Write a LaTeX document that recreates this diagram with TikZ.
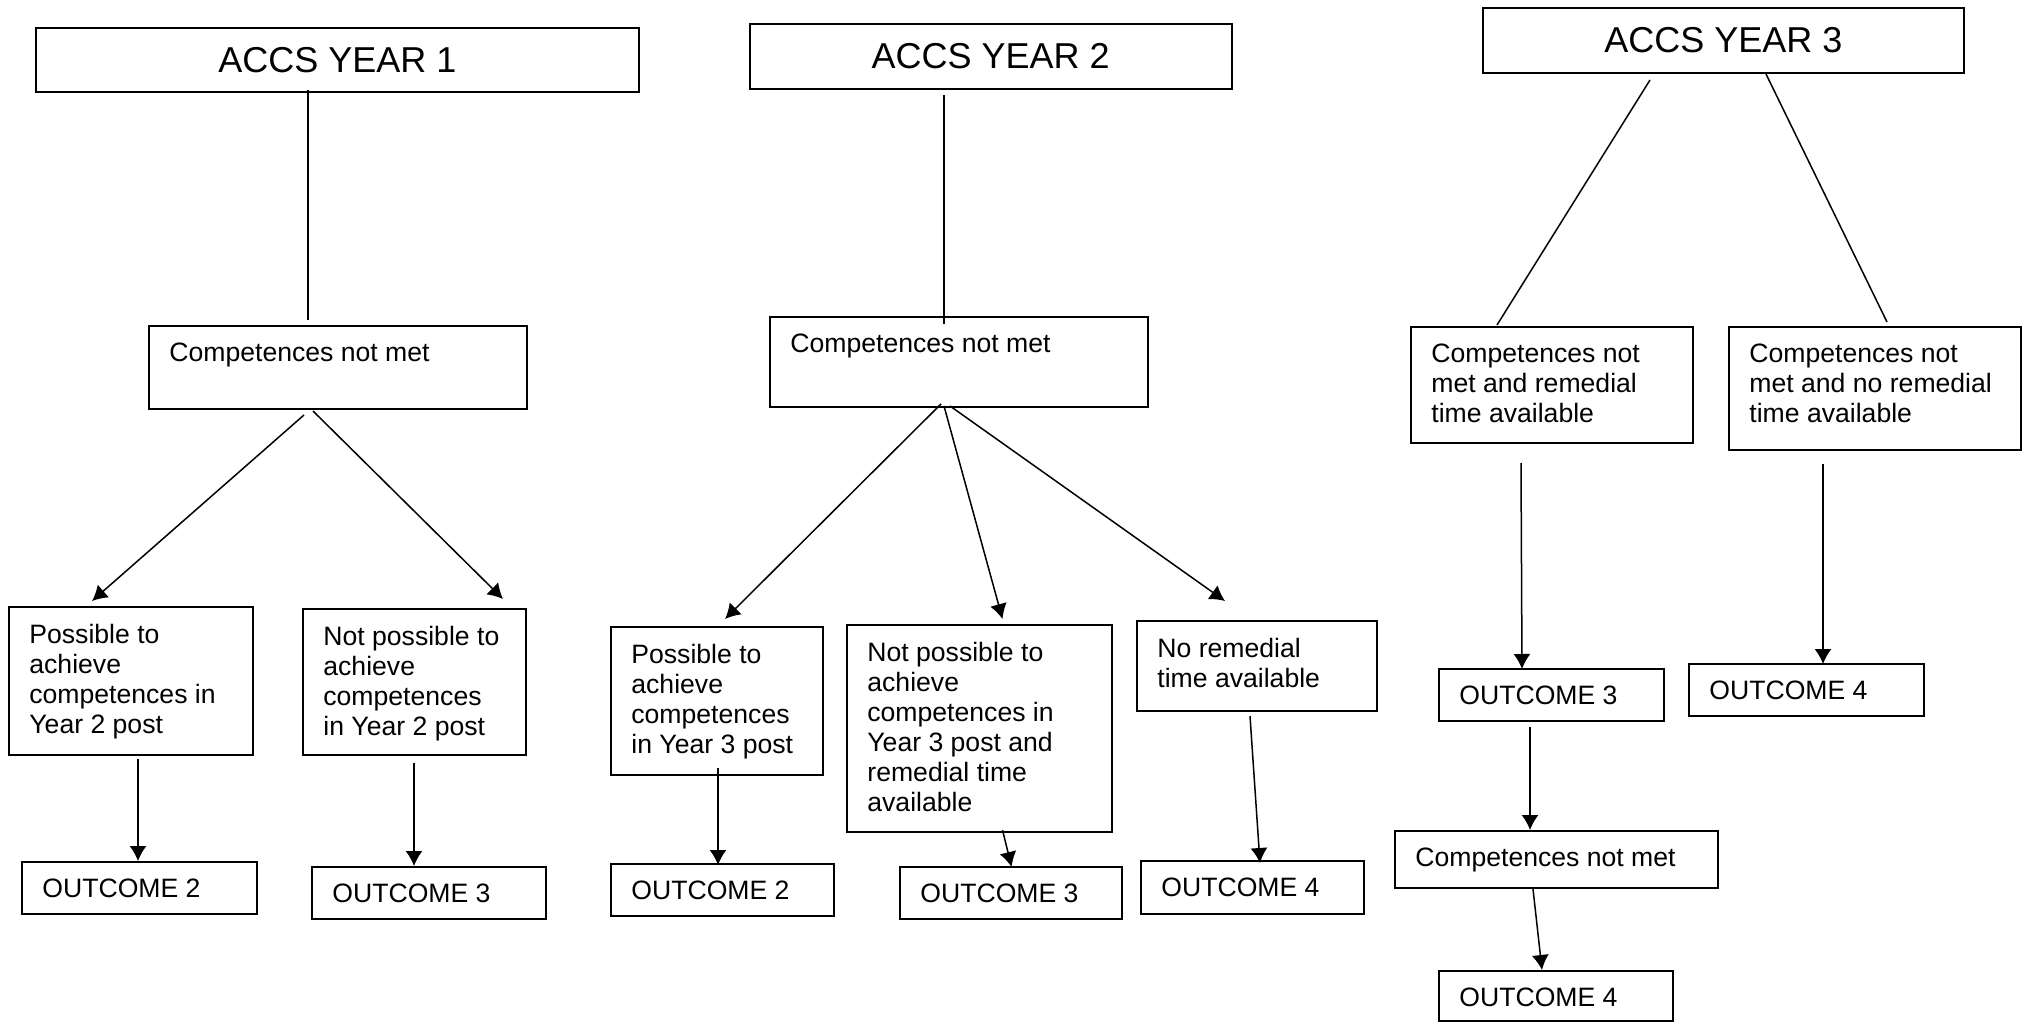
\documentclass[tikz,border=0pt]{standalone}
\usepackage{fontspec}
\setmainfont{Liberation Sans}
\usepackage{tikz}
\usetikzlibrary{arrows.meta}
\tikzset{>={Latex[length=7.5pt,width=8.5pt]},
  box/.style={draw, line width=1pt, inner sep=0pt},
  txt/.style={anchor=north west, inner sep=0pt, align=left,
    xshift=10.5pt, yshift=-9pt, font=\fontsize{13.3}{15}\selectfont},
  yeartitle/.style={box, font=\fontsize{18}{22}\selectfont},
  link/.style={line width=0.75pt}}

\begin{document}
\begin{tikzpicture}[x=0.5pt,y=-0.5pt]

  \useasboundingbox (0,0) rectangle (2026,1022);

  % year 1
  \node [yeartitle, minimum width=301.5pt, minimum height=32pt] (t1) at (337.5,60) {ACCS YEAR 1};
  \node [box, minimum width=189pt, minimum height=41.5pt, label={[txt]north west:Competences not met}] (c1) at (338,367.5) {};
  \node [box, minimum width=122pt, minimum height=74pt, label={[txt]north west:Possible to\\achieve\\competences in\\Year 2 post}] (p1) at (131,681) {};
  \node [box, minimum width=111.5pt, minimum height=73pt, label={[txt]north west:Not possible to\\achieve\\competences\\in Year 2 post}] (n1) at (414.5,682) {};
  \node [box, minimum width=117.5pt, minimum height=26pt, label={[txt]north west:OUTCOME 2}] (o12) at (139.5,888) {};
  \node [box, minimum width=117pt, minimum height=26pt, label={[txt]north west:OUTCOME 3}] (o13) at (429,893) {};

  \draw [link] ([shift={(273,-3)}]t1.south west) -- ([shift={(160,-5)}]c1.north west);
  \draw [link,->] ([shift={(156,5)}]c1.south west) -- ([shift={(84,-5)}]p1.north west);
  \draw [link,->] ([shift={(165,1)}]c1.south west) -- ([shift={(201,-9)}]n1.north west);
  \draw [link,->] ([shift={(130,3)}]p1.south west) -- ([shift={(117,0)}]o12.north west);
  \draw [link,->] ([shift={(112,7)}]n1.south west) -- ([shift={(103,0)}]o13.north west);

  % year 2
  \node [yeartitle, minimum width=240.75pt, minimum height=32.5pt] (t2) at (990.75,56.5) {ACCS YEAR 2};
  \node [box, minimum width=189pt, minimum height=45pt, label={[txt]north west:Competences not met}] (c2) at (959,362) {};
  \node [box, minimum width=106pt, minimum height=74pt, label={[txt]north west:Possible to\\achieve\\competences\\in Year 3 post}] (p2) at (717,701) {};
  \node [box, minimum width=132.5pt, minimum height=103.5pt, label={[txt]north west:Not possible to\\achieve\\competences in\\Year 3 post and\\remedial time\\available}] (n2) at (979.5,728.5) {};
  \node [box, minimum width=120pt, minimum height=45pt, label={[txt]north west:No remedial\\time available}] (r2) at (1257,666) {};
  \node [box, minimum width=111.5pt, minimum height=26pt, label={[txt]north west:OUTCOME 2}] (o22) at (722.5,890) {};
  \node [box, minimum width=111pt, minimum height=26pt, label={[txt]north west:OUTCOME 3}] (o23) at (1011,893) {};
  \node [box, minimum width=111.5pt, minimum height=26.5pt, label={[txt]north west:OUTCOME 4}] (o24) at (1252.5,887.5) {};

  \draw [link] ([shift={(195,5)}]t2.south west) -- ([shift={(175,8)}]c2.north west);
  \draw [link,->] ([shift={(172,-4)}]c2.south west) -- ([shift={(115,-7)}]p2.north west);
  \draw [link,->] ([shift={(175,-2)}]c2.south west) -- ([shift={(156.5,-5)}]n2.north west);
  \draw [link,->] ([shift={(181,-2)}]c2.south west) -- ([shift={(89,-19)}]r2.north west);
  \draw [link,->] ([shift={(108,-8)}]p2.south west) -- ([shift={(108,2)}]o22.north west);
  \draw [link,->] ([shift={(156.5,-3)}]n2.south west) -- ([shift={(112.6,1)}]o23.north west);
  \draw [link,->] ([shift={(114,4)}]r2.south west) -- ([shift={(120,3)}]o24.north west);

  % year 3
  \node [yeartitle, minimum width=240.5pt, minimum height=32.5pt] (t3) at (1723.5,40.5) {ACCS YEAR 3};
  \node [box, minimum width=141pt, minimum height=58pt, label={[txt]north west:Competences not\\met and remedial\\time available}] (cr) at (1552,385) {};
  \node [box, minimum width=146pt, minimum height=61.5pt, label={[txt]north west:Competences not\\met and no remedial\\time available}] (cn) at (1875,388.5) {};
  \node [box, minimum width=112.5pt, minimum height=26pt, label={[txt]north west:OUTCOME 3}] (o33) at (1551.5,695) {};
  \node [box, minimum width=117.5pt, minimum height=26pt, label={[txt]north west:OUTCOME 4}] (o34) at (1806.5,690) {};
  \node [box, minimum width=161.5pt, minimum height=28.5pt, label={[txt]north west:Competences not met}] (c3) at (1556.5,859.5) {};
  \node [box, minimum width=117pt, minimum height=25pt, label={[txt]north west:OUTCOME 4}] (o44) at (1556,996) {};

  \draw [link] ([shift={(168,6)}]t3.south west) -- ([shift={(87,-1)}]cr.north west);
  \draw [link] ([shift={(284,0)}]t3.south west) -- ([shift={(159,-4)}]cn.north west);
  \draw [link,->] ([shift={(111,19)}]cr.south west) -- ([shift={(84,1)}]o33.north west);
  \draw [link,->] ([shift={(95,13)}]cn.south west) -- ([shift={(135,1)}]o34.north west);
  \draw [link,->] ([shift={(92,5)}]o33.south west) -- ([shift={(136,0)}]c3.north west);
  \draw [link,->] ([shift={(139,0)}]c3.south west) -- ([shift={(104,0)}]o44.north west);

\end{tikzpicture}
\end{document}
